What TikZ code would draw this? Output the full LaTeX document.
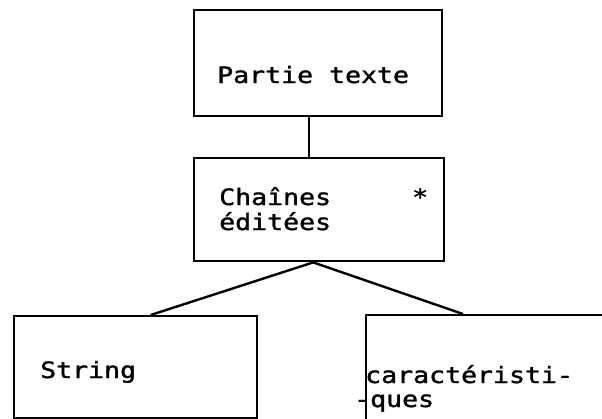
\documentclass[tikz,border=0pt]{standalone}
\usepackage{fontspec}
\usepackage{tikz}
\usepackage{xcolor}
\newfontfamily\printfont[FakeStretch=1.18,FakeBold=1.4]{DejaVu Sans Mono}

\begin{document}
\begin{tikzpicture}[x=1pt,y=-1pt, line width=2.4pt,
    every node/.style={font=\printfont\fontsize{22.5}{25}\selectfont},
    box/.style={draw, rectangle, inner sep=0pt, anchor=north west},
    label/.style={anchor=base west, inner sep=0pt}]
  \useasboundingbox (0,0) rectangle (602,418);
  \clip (0,0) rectangle (602,418);

  % boxes
  \node[box, minimum width=248pt, minimum height=106pt] (partie) at (193,9) {};
  \node[box, minimum width=250pt, minimum height=103pt] (chaines) at (193,157) {};
  \node[box, minimum width=243pt, minimum height=102pt] (string) at (13,315) {};
  \node[box, minimum width=280pt, minimum height=110pt] (carac) at (365,314) {};

  % texts
  \node[label] (tpartie) at (216,83) {Partie texte};
  \node[label] (tchaines) at (218,205) {Chaînes};
  \node[label] (tstar) at (411,205) {*};
  \node[label] (tedit) at (218,230) {éditées};
  \node[label] (tstring) at (39,378) {String};
  \node[label] (tcarac) at (364,383) {caractéristi-};
  \node[label] (tques) at (353,407) {-ques};

  % links
  \draw ([xshift=-9pt]partie.south) -- ([xshift=-9pt]partie.south |- chaines.north);
  \coordinate (apex) at ([xshift=-6pt]chaines.south);
  \draw (apex) -- ([xshift=15pt]string.north);
  \draw (apex) -- ([xshift=98pt]carac.north west);
\end{tikzpicture}
\end{document}
